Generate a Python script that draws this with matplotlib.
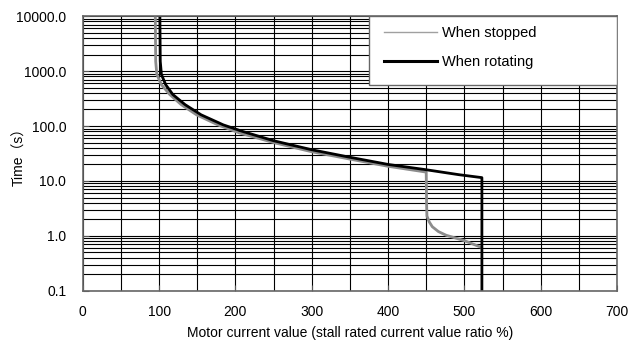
import matplotlib.pyplot as plt
from matplotlib.lines import Line2D
from matplotlib.patches import Rectangle
from matplotlib.ticker import FixedLocator, LogLocator, NullFormatter
import numpy as np

# curve (current ratio %, time s)
stopped_x = [95, 95.5, 97, 103, 114, 129, 149, 177, 205, 250, 300, 350, 400, 450,
             450.5, 451, 454, 458, 466, 476, 500, 522]
stopped_y = [10000, 1500, 870, 565, 374, 245, 160, 105, 75, 50, 34, 25, 18.5, 14.5,
             4, 2.3, 1.8, 1.47, 1.2, 1.03, 0.82, 0.62]
rotating_x = [101, 101.5, 103, 108.6, 118, 134, 155, 184, 209, 250, 300, 350, 400, 450,
              493, 523, 523]
rotating_y = [10000, 1500, 870, 565, 374, 245, 160, 105, 80, 54, 37, 27, 20, 16,
              13, 11.5, 0.1]
xticks = [0, 100, 200, 300, 400, 500, 600, 700]
yticks = [0.1, 1, 10, 100, 1000, 10000]

plt.rcParams['font.family'] = ['Liberation Sans', 'Noto Sans CJK JP']
fig = plt.figure(figsize=(6.42, 3.43), dpi=100)
ax = fig.add_axes([0.129, 0.152, 0.832, 0.801])

ax.set_yscale('log')
ax.set_xlim(0, 700)
ax.set_ylim(0.1, 10000)
ax.set_xticks(xticks)
ax.xaxis.set_minor_locator(FixedLocator(np.arange(50, 700, 100)))
ax.set_yticks(yticks)
ax.set_yticklabels(['%.1f' % v for v in yticks])
ax.yaxis.set_minor_locator(LogLocator(base=10, subs=np.arange(2, 10), numticks=20))
ax.yaxis.set_minor_formatter(NullFormatter())

ax.grid(which='both', color='k', linewidth=0.8)
ax.tick_params(which='major', direction='in', length=4, labelsize=10, color='#555555')
ax.tick_params(axis='x', which='major', pad=10)
ax.tick_params(axis='y', which='major', pad=12)
ax.tick_params(which='minor', length=0)
for s in ax.spines.values():
    s.set_color('#666666')
    s.set_linewidth(1.2)

ax.plot(stopped_x, stopped_y, color='#8c8c8c', linewidth=2)
ax.plot(rotating_x, rotating_y, color='k', linewidth=2)

# legend box
box = Rectangle((0.536, 0.749), 0.464, 0.251, transform=ax.transAxes, facecolor='white',
                edgecolor='#666666', linewidth=1.0, zorder=3)
ax.add_patch(box)
handles = [Line2D([], [], color='#a0a0a0', linewidth=1.0, label='When stopped'),
           Line2D([], [], color='k', linewidth=2.2, label='When rotating')]
leg = ax.legend(handles=handles, loc='upper left', bbox_to_anchor=(0.551, 0.99), fontsize=10.5,
                frameon=False, borderpad=0, labelspacing=1.0, handlelength=3.6, handletextpad=0.35)
leg.set_zorder(4)

ax.set_xlabel('Motor current value (stall rated current value ratio %)', fontsize=10, labelpad=5)
ax.set_ylabel('Time（s）', fontsize=10)
ax.yaxis.set_label_coords(-0.106, 0.5)

fig.savefig('out.png', dpi=100)
